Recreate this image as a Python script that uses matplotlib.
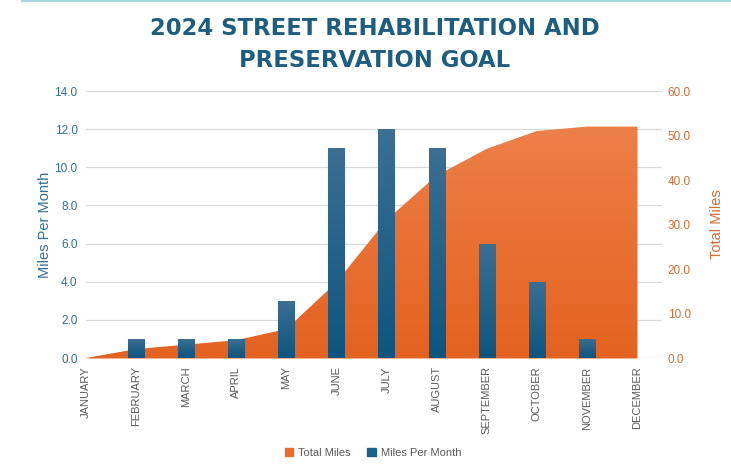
import matplotlib
matplotlib.use("Agg")
import matplotlib.pyplot as plt
import numpy as np
from matplotlib.patches import Patch
from matplotlib.colors import LinearSegmentedColormap

months = ["JANUARY", "FEBRUARY", "MARCH", "APRIL", "MAY", "JUNE", "JULY",
          "AUGUST", "SEPTEMBER", "OCTOBER", "NOVEMBER", "DECEMBER"]
miles_per_month = [0, 1, 1, 1, 3, 11, 12, 11, 6, 4, 1, 0]
total_miles = [0, 2, 3, 4, 6.5, 17, 31, 41, 47, 51, 52, 52]
left_ticks = [0, 2, 4, 6, 8, 10, 12, 14]
right_ticks = [0, 10, 20, 30, 40, 50, 60]

BLUE = "#1B6189"
ORANGE = "#EA6D2B"
TITLE = "#1D5E80"
LBLUE = "#2F6F94"
LORANGE = "#CF6E36"
GREY = "#595959"

plt.rcParams['font.family'] = ['Liberation Sans', 'DejaVu Sans']

fig = plt.figure(figsize=(7.31, 4.73), dpi=100)
ax = fig.add_axes([0.1176, 0.2431, 0.7880, 0.5645])
ax2 = ax.twinx()

x = np.arange(len(months))

ax2.set_zorder(0)
ax.set_zorder(1)
ax.patch.set_visible(False)

LMAX, RMAX = 14, 60
ax.set_xlim(0, 11.5)
ax.set_ylim(0, LMAX)
ax2.set_ylim(0, RMAX)

# gridlines follow the left axis but sit behind the area
for v in left_ticks:
    ax2.axhline(v * RMAX / LMAX, color="#D9D9D9", linewidth=0.9, zorder=0)

poly = ax2.fill_between(x, 0, total_miles, color=ORANGE, linewidth=0, zorder=1)
grad = np.linspace(0, 1, 256).reshape(-1, 1)
cmap_o = LinearSegmentedColormap.from_list("o", ["#E4621F", "#EE844F"])
im = ax2.imshow(grad, aspect="auto", cmap=cmap_o, extent=[0, 11, 0, RMAX],
                origin="lower", zorder=1)
im.set_clip_path(poly.get_paths()[0], transform=ax2.transData)

bars = ax.bar(x, miles_per_month, width=0.32, color=BLUE, zorder=3)
cmap_b = LinearSegmentedColormap.from_list("b", ["#0E5580", "#3B6F93"])
for b in bars:
    h = b.get_height()
    if h <= 0:
        continue
    x0 = b.get_x()
    w = b.get_width()
    g = ax.imshow(np.linspace(0, 1, 128).reshape(-1, 1), aspect="auto", cmap=cmap_b,
                  extent=[x0, x0 + w, 0, h], origin="lower", zorder=3.1)
    g.set_clip_path(b)

ax.set_xlim(0, 11.5)
ax.set_ylim(0, LMAX)
ax2.set_ylim(0, RMAX)

ax.set_yticks(left_ticks)
ax.set_yticklabels([f"{v:.1f}" for v in left_ticks], color=LBLUE, fontsize=8.5)
ax2.set_yticks(right_ticks)
ax2.set_yticklabels([f"{v:.1f}" for v in right_ticks], color=LORANGE, fontsize=8.5)

for a in (ax, ax2):
    for s in a.spines.values():
        s.set_visible(False)
    a.tick_params(length=0)

ax.tick_params(axis='y', pad=6)
ax2.tick_params(axis='y', pad=4)

ax.set_xticks(x)
ax.set_xticklabels(months, rotation=90, color=GREY, fontsize=8)
ax.tick_params(axis='x', pad=6)

ax.set_ylabel("Miles Per Month", color=LBLUE, fontsize=10.5, labelpad=2)
ax2.set_ylabel("Total Miles", color=LORANGE, fontsize=10.5, labelpad=14)

fig.text(0.513, 0.94, "2024 STREET REHABILITATION AND", ha="center", va="center",
         fontsize=16.4, fontweight="bold", color=TITLE, family="DejaVu Sans")
fig.text(0.513, 0.872, "PRESERVATION GOAL", ha="center", va="center",
         fontsize=16.4, fontweight="bold", color=TITLE, family="DejaVu Sans")

handles = [Patch(color=ORANGE, label="Total Miles"), Patch(color=BLUE, label="Miles Per Month")]
fig.legend(handles=handles, loc="center", bbox_to_anchor=(0.51, 0.043), ncol=2,
           frameon=False, fontsize=8, handlelength=0.8, handleheight=0.8,
           columnspacing=1.5, handletextpad=0.4, labelcolor=GREY)

fig.add_artist(plt.Line2D([0.03, 1.0], [0.998, 0.998], color="#A9D5DF", linewidth=1.5))

fig.savefig("out.png", dpi=100)
